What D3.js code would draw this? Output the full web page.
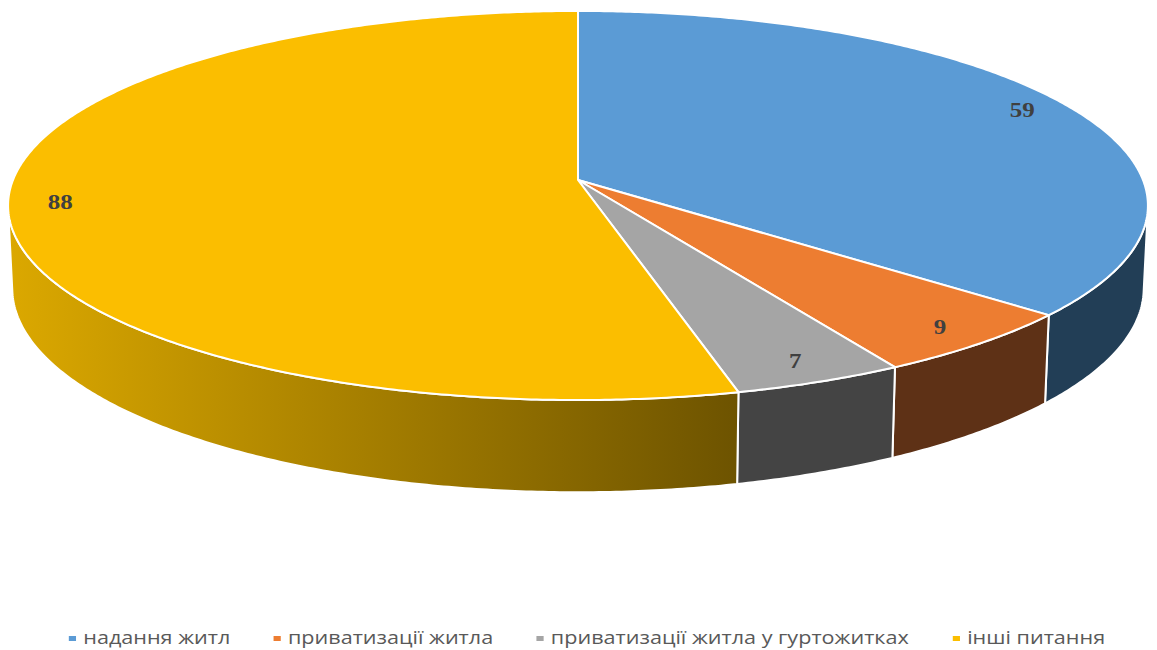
<!DOCTYPE html>
<html>
<head>
<meta charset="utf-8">
<script src="https://cdn.jsdelivr.net/npm/d3@7"></script>
<style>
  html, body { margin: 0; padding: 0; background: #fff; }
  svg { display: block; }
</style>
</head>
<body>
<svg id="chart" width="1157" height="650"></svg>
<script>
// Звернення за темами
const categories = ["надання житл", "приватизації житла", "приватизації житла у гуртожитках", "інші питання"];
const values = [59, 9, 7, 88];
const topColors = ["#5B9BD5", "#ED7D31", "#A5A5A5", "#FBBE00"];
const sideColors = ["#223E56", "#5E3116", "#444444", "url(#yellowSide)"];

const width = 1157, height = 650;
const svg = d3.select("#chart");

// Perspective view of a flat cylinder (unit radius, thickness depth)
const view = { cx: 578, cy: 180, scale: 565, sinT: 0.3384, cosT: 0.941, dist: 7.18, depth: 0.155 };

function project(X, Y, Z) {
  const sy = -Y * view.cosT + Z * view.sinT;
  const dz = Z * view.cosT + Y * view.sinT;
  const k = 1 / (1 - dz / view.dist);
  return [view.cx + view.scale * X * k, view.cy + view.scale * sy * k];
}
// angle measured clockwise from 12 o'clock, in radians
function rim(a, Y, r = 1) {
  return project(r * Math.sin(a), Y, -r * Math.cos(a));
}

const pie = d3.pie().sort(null).value(d => d);
const arcs = pie(values);

function arcPoints(a0, a1, Y) {
  const n = Math.max(2, Math.ceil((a1 - a0) / (Math.PI / 360)));
  return d3.range(n + 1).map(i => rim(a0 + (a1 - a0) * i / n, Y));
}

const defs = svg.append("defs");
const grad = defs.append("linearGradient")
  .attr("id", "yellowSide")
  .attr("gradientUnits", "userSpaceOnUse")
  .attr("x1", 10).attr("y1", 0).attr("x2", 740).attr("y2", 0);
grad.append("stop").attr("offset", 0).attr("stop-color", "#DBA800");
grad.append("stop").attr("offset", 1).attr("stop-color", "#6D5300");

const line = d3.line();

// Outer wall: only the part facing the viewer
const limit = Math.acos(-1 / (view.dist * view.cosT));
const visLo = limit, visHi = 2 * Math.PI - limit;

const walls = svg.append("g");
arcs.forEach((d, i) => {
  const lo = Math.max(d.startAngle, visLo);
  const hi = Math.min(d.endAngle, visHi);
  if (lo >= hi) return;
  const topPts = arcPoints(lo, hi, 0);
  const botPts = arcPoints(lo, hi, -view.depth).reverse();
  walls.append("path")
    .attr("d", line(topPts.concat(botPts)) + "Z")
    .attr("fill", sideColors[i])
    .attr("stroke", "#fff")
    .attr("stroke-width", 2)
    .attr("stroke-linejoin", "round");
});

// Top face slices
const apex = project(0, 0, 0);
const tops = svg.append("g");
arcs.forEach((d, i) => {
  const pts = [apex].concat(arcPoints(d.startAngle, d.endAngle, 0));
  tops.append("path")
    .attr("d", line(pts) + "Z")
    .attr("fill", topColors[i])
    .attr("stroke", "#fff")
    .attr("stroke-width", 2)
    .attr("stroke-linejoin", "round");
});

// Value labels (type is drawn slightly widened)
const labels = svg.append("g");
arcs.forEach((d, i) => {
  const mid = (d.startAngle + d.endAngle) / 2;
  const p = rim(mid, 0, 0.91);
  labels.append("text")
    .attr("transform", `translate(${p[0]},${p[1]}) scale(1.25,1)`)
    .attr("text-anchor", "middle")
    .attr("dominant-baseline", "central")
    .attr("font-family", "'Liberation Serif', 'DejaVu Serif', serif")
    .attr("font-weight", "bold")
    .attr("font-size", 20)
    .attr("fill", "#404040")
    .text(d.data);
});

// Legend, laid out in unscaled units then widened
const stretch = 1.2;
const legend = svg.append("g");
const items = legend.selectAll("g").data(categories).join("g");
items.append("rect")
  .attr("width", 6).attr("height", 5)
  .attr("y", -8)
  .attr("fill", (d, i) => topColors[i]);
items.append("text")
  .attr("x", 12)
  .attr("font-family", "'Open Sans', 'DejaVu Sans', sans-serif")
  .attr("font-size", 18)
  .attr("fill", "#595959")
  .text(d => d);
let x = 0;
const gap = 36;
const offsets = [];
items.each(function () {
  offsets.push(x);
  x += this.getBBox().width + gap;
});
const total = x - gap;
items.attr("transform", (d, i) => `translate(${offsets[i]},0)`);
legend.attr("transform", `translate(${587 - total * stretch / 2},644) scale(${stretch},1)`);
</script>
</body>
</html>
